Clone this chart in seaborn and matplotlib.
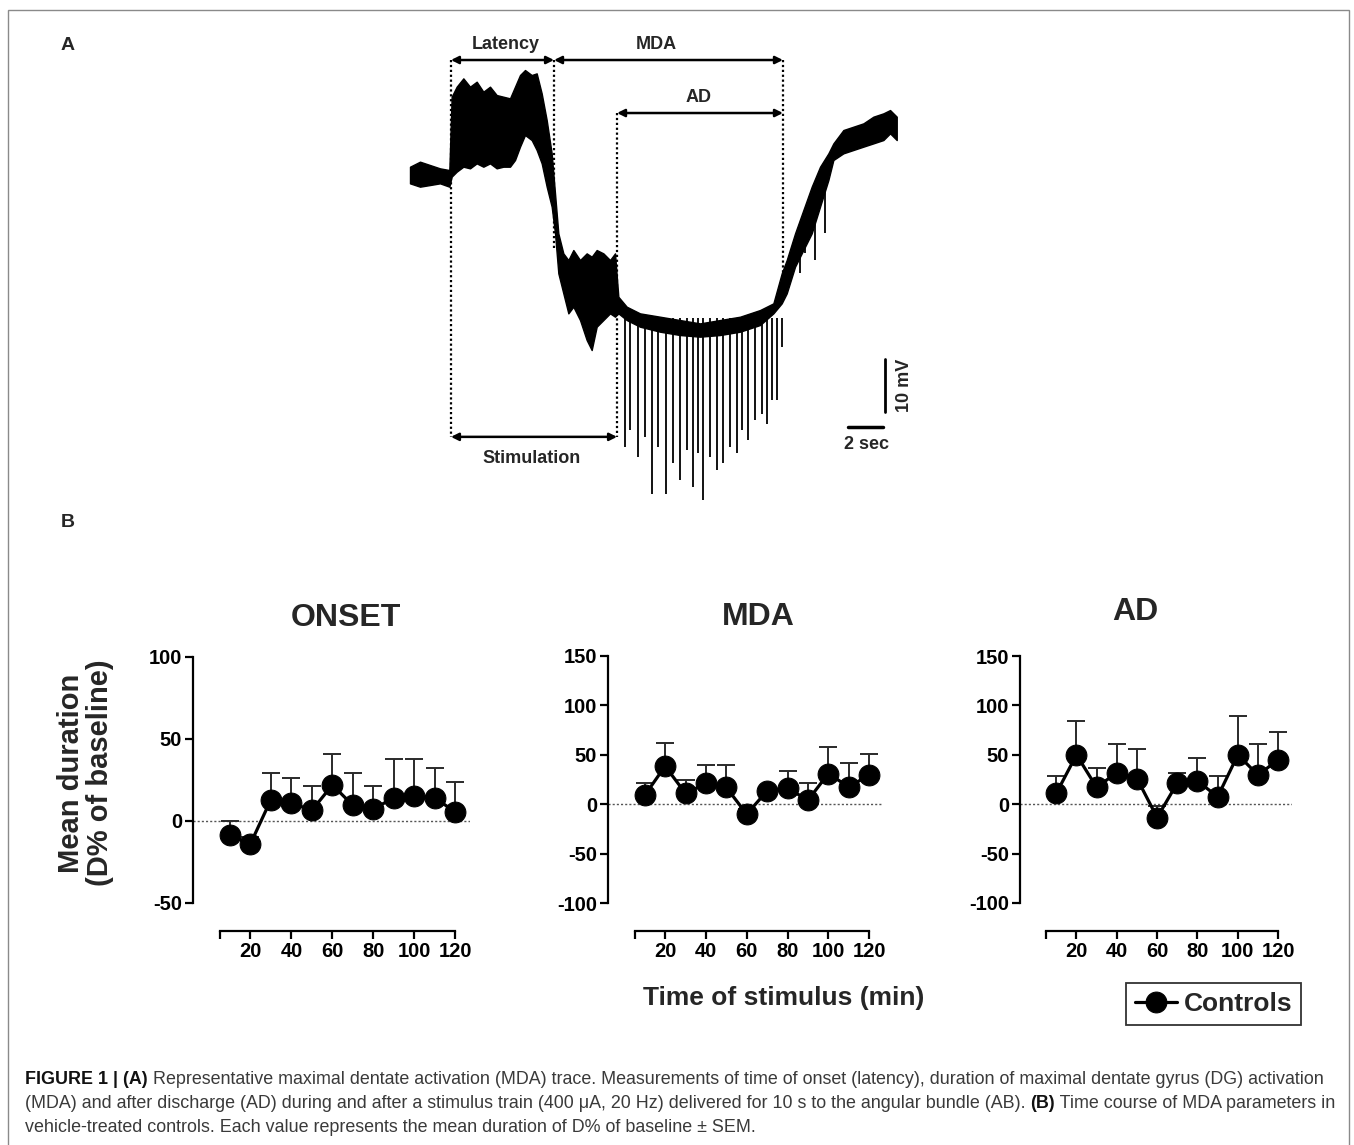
import numpy as np
import pandas as pd
import matplotlib
matplotlib.use("Agg")
import matplotlib.pyplot as plt
import seaborn as sns
from matplotlib.patches import Rectangle

# ---- panel B data: mean duration (D% of baseline) and SEM per stimulus time
time_min = [10, 20, 30, 40, 50, 60, 70, 80, 90, 100, 110, 120]
onset_mean = [-8.5, -14, 13, 11, 6.5, 22, 9.5, 7.5, 14, 15, 14, 5.5]
onset_sem = [8.5, 4, 16, 15, 15, 19, 20, 14, 24, 23, 18.5, 18]
mda_mean = [9, 38.5, 11, 21, 17, -10, 13.5, 16.5, 4, 31, 17.5, 29.5]
mda_sem = [12.5, 23.5, 14, 18.5, 23, 5, 4, 17, 17.5, 27, 24, 21]
ad_mean = [11, 50, 17, 32, 26, -13.5, 21.5, 23.5, 7.5, 50, 29.5, 45]
ad_sem = [17.5, 34, 19.5, 28.5, 30, 12, 10, 23, 21, 39, 31, 28.5]

# ---- panel A: MDA trace envelope (s, mV)
trace_t = [0.0, 0.571, 1.143, 1.714, 2.248, 2.381, 2.667, 3.048, 3.429, 3.81,
           4.19, 4.571, 4.952, 5.333, 5.714, 6.0, 6.286, 6.571, 6.952, 7.238,
           7.524, 7.81, 8.095, 8.286, 8.476, 8.762, 9.048, 9.333, 9.714, 10.095,
           10.381, 10.667, 11.048, 11.429, 11.714, 11.905, 12.381, 13.143, 14.286,
           15.429, 16.571, 17.714, 18.857, 20.0, 20.762, 21.238, 21.524, 22.0,
           22.476, 22.952, 23.429, 23.905, 24.19, 24.762, 25.333, 25.905, 26.476,
           27.048, 27.429, 27.81]
trace_hi = [1.57, 2.52, 1.89, 1.26, 0.94, 14.78, 16.67, 18.24, 16.67, 17.61,
            15.72, 16.67, 15.09, 14.78, 14.47, 16.67, 18.87, 19.81, 18.87, 19.18,
            15.41, 10.38, 4.09, -3.46, -11.01, -14.78, -16.04, -14.15, -16.04, -14.78,
            -15.41, -14.15, -14.78, -16.04, -14.78, -22.96, -24.84, -26.10, -26.73,
            -27.36, -27.99, -27.36, -26.73, -25.47, -24.21, -18.55, -16.04, -11.01,
            -6.60, -2.20, 1.57, 4.09, 5.97, 8.49, 9.12, 9.75, 11.01,
            11.64, 12.26, 11.01]
trace_lo = [-1.57, -2.20, -1.89, -1.57, -2.20, -0.31, 0.63, 1.57, 1.26, 2.20,
            1.57, 2.20, 1.26, 1.57, 1.57, 2.83, 5.35, 7.55, 6.60, 4.72,
            2.20, -2.20, -5.97, -11.01, -18.55, -22.33, -26.10, -24.84, -27.36, -31.13,
            -33.02, -28.62, -27.36, -26.10, -26.73, -26.10, -27.36, -28.62, -29.56,
            -30.19, -30.50, -30.19, -29.56, -28.30, -26.10, -24.21, -22.33, -17.30,
            -14.15, -11.01, -5.97, -0.94, 2.83, 4.09, 4.72, 5.35, 5.97,
            6.60, 7.86, 6.60]
# after-discharge population spikes (time s, trough mV)
spike_t = [12.29, 12.57, 13.05, 13.43, 13.81, 14.19, 14.63, 15.05, 15.43, 15.81,
           16.19, 16.47, 16.76, 17.14, 17.53, 17.9, 18.29, 18.67, 18.95, 19.33,
           19.71, 20.1, 20.38, 20.67, 20.95, 21.24]
spike_v = [-51.3, -48.1, -53.2, -49.4, -60.1, -51.3, -60.1, -54.4, -57.5, -51.9,
           -58.8, -52.5, -61.3, -53.2, -55.7, -54.4, -51.3, -52.5, -48.1, -50.0,
           -46.2, -45.0, -46.9, -42.5, -42.5, -32.4]
# downward deflections during recovery (time s, start mV, trough mV)
recov_t = [22.29, 22.57, 23.14, 23.71]
recov_top = [-12.0, -9.0, -6.0, -2.0]
recov_bot = [-18.55, -14.78, -16.04, -11.01]

W, H = 1354, 1145
sns.set_theme(style="ticks")
plt.rcParams["font.family"] = ["Liberation Sans", "DejaVu Sans"]
plt.rcParams["axes.unicode_minus"] = False

fig = plt.figure(figsize=(W / 100, H / 100), dpi=100)
fig.patch.set_facecolor("white")


def px_axes(x0, y0, x1, y1):
    return fig.add_axes([x0 / W, 1 - y1 / H, (x1 - x0) / W, (y1 - y0) / H])


def fpos(x, y):
    return x / W, 1 - y / H


# outer frame
fig.patches.append(Rectangle((8 / W, -0.01), 1341 / W, 1 - 10 / H + 0.01,
                             transform=fig.transFigure, fill=False,
                             edgecolor="#8a8a8a", lw=1.0))

fig.text(*fpos(68, 45), "A", fontsize=14, fontweight="bold", ha="center", va="center")
fig.text(*fpos(68, 523), "B", fontsize=14, fontweight="bold", ha="center", va="center")

# ---------------- panel A ----------------
axa = px_axes(400, 20, 920, 510)
axa.set_xlim(-0.571, 29.14)
axa.set_ylim(-63.2, 29.25)
axa.axis("off")
axa.fill_between(trace_t, trace_lo, trace_hi, color="black", lw=1.0)
axa.vlines(spike_t, -27, spike_v, color="black", lw=1.3)
axa.vlines(recov_t, recov_top, recov_bot, color="black", lw=1.3)

dot = dict(color="black", lw=1.6, ls=(0, (1, 1.2)))
axa.plot([2.34, 2.34], [21.7, -49.4], **dot)
axa.plot([8.23, 8.23], [21.7, -14.2], **dot)
axa.plot([11.83, 11.83], [11.7, -49.4], **dot)
axa.plot([21.31, 21.31], [21.7, -23.6], **dot)

arrow = dict(arrowstyle="<|-|>", color="black", lw=1.8, mutation_scale=11,
             shrinkA=0, shrinkB=0)
for x0, x1, y in [(2.34, 8.23, 21.7), (8.23, 21.31, 21.7),
                  (11.83, 21.31, 11.7), (2.34, 11.83, -49.4)]:
    axa.annotate("", xy=(x1, y), xytext=(x0, y), arrowprops=arrow)

lab = dict(fontsize=13, fontweight="bold", ha="center", va="center")
axa.text(5.49, 24.7, "Latency", **lab)
axa.text(14.06, 24.7, "MDA", **lab)
axa.text(16.51, 14.7, "AD", **lab)
axa.text(6.97, -53.4, "Stimulation", **lab)

# scale bars
axa.plot([27.14, 27.14], [-34.7, -44.7], color="black", lw=2)
axa.plot([25.03, 27.03], [-47.5, -47.5], color="black", lw=2.5)
axa.text(28.23, -39.6, "10 mV", rotation=90, **lab)
axa.text(26.11, -50.9, "2 sec", **lab)

# ---------------- panel B ----------------
panels = [
    ("ONSET", onset_mean, onset_sem, (193, 657, 469.75, 903), (-50, 100), [-50, 0, 50, 100], (345.5, 618)),
    ("MDA", mda_mean, mda_sem, (608, 655.7, 883.4, 903.3), (-100, 150), [-100, -50, 0, 50, 100, 150], (758, 617)),
    ("AD", ad_mean, ad_sem, (1020, 656, 1292.3, 903), (-100, 150), [-100, -50, 0, 50, 100, 150], (1135, 612)),
]

handle = None
for name, mean, sem, box, ylim, yticks, tpos in panels:
    ax = px_axes(*box)
    df = pd.DataFrame({"time": time_min, "mean": mean})
    sns.lineplot(data=df, x="time", y="mean", ax=ax, color="black", lw=2.3,
                 marker="o", markersize=15, markeredgecolor="black",
                 markerfacecolor="black", zorder=4)
    if handle is None:
        handle = ax.get_lines()[0]
    ax.errorbar(time_min, mean, yerr=[np.zeros(len(sem)), sem], fmt="none",
                ecolor="#2a2a2a", elinewidth=1.4, capsize=6.5, capthick=1.4, zorder=2)
    ax.axhline(0, color="#555555", lw=1.0, ls=(0, (1.5, 1.5)), zorder=1)

    ax.set_xlim(-8, 127)
    ax.set_ylim(*ylim)
    ax.set_yticks(yticks)
    ax.set_xticks([5, 20, 40, 60, 80, 100, 120])
    ax.set_xticklabels(["", "20", "40", "60", "80", "100", "120"])
    ax.set_xlabel("")
    ax.set_ylabel("")
    sns.despine(ax=ax)
    ax.spines["bottom"].set_position(("outward", 20))
    ax.spines["bottom"].set_bounds(5, 120)
    for s in ("left", "bottom"):
        ax.spines[s].set_linewidth(1.6)
        ax.spines[s].set_color("black")
    ax.tick_params(direction="out", length=6, width=1.6, labelsize=14.5,
                   pad=2, colors="black")
    for t in ax.get_xticklabels() + ax.get_yticklabels():
        t.set_fontweight("bold")
    ax.set_facecolor("none")
    fig.text(*fpos(*tpos), name, fontsize=23, fontweight="bold", ha="center", va="center")

fig.text(*fpos(85.5, 773), "Mean duration\n(D% of baseline)", rotation=90,
         fontsize=21, fontweight="bold", ha="center", va="center",
         multialignment="center", linespacing=1.05)
fig.text(*fpos(783.5, 998), "Time of stimulus (min)", fontsize=19,
         fontweight="bold", ha="center", va="center")

leg = fig.legend([handle], ["Controls"], loc="center", bbox_to_anchor=fpos(1213.5, 1004),
                 frameon=True, fancybox=False, edgecolor="black", handlelength=1.6,
                 handletextpad=0.25, borderpad=0.35, prop=dict(size=19, weight="bold"))
leg.get_frame().set_linewidth(1.3)

# ---------------- caption ----------------
cap_lines = [
    [("FIGURE 1 | (A)", True),
     (" Representative maximal dentate activation (MDA) trace. Measurements of time of onset (latency), duration of maximal dentate gyrus (DG) activation", False)],
    [("(MDA) and after discharge (AD) during and after a stimulus train (400 \u03bcA, 20 Hz) delivered for 10 s to the angular bundle (AB). ", False),
     ("(B)", True), (" Time course of MDA parameters in", False)],
    [("vehicle-treated controls. Each value represents the mean duration of D% of baseline \u00b1 SEM.", False)],
]
cap_base = [1084, 1108.5, 1132.5]

renderer = fig.canvas.get_renderer()


def line_width(parts, size):
    total = 0
    for txt, bold in parts:
        t = fig.text(0, 0, txt, fontsize=size, fontweight="bold" if bold else "normal")
        total += t.get_window_extent(renderer).width
        t.remove()
    return total


size = 12 * (1297 / line_width(cap_lines[0], 12))
for parts, yb in zip(cap_lines, cap_base):
    x = 25
    for txt, bold in parts:
        t = fig.text(x / W, 1 - yb / H, txt, fontsize=size,
                     fontweight="bold" if bold else "normal",
                     color="#111111" if bold else "#3a3a3a", va="baseline")
        x += t.get_window_extent(renderer).width

fig.savefig("out.png", dpi=100, facecolor="white")
